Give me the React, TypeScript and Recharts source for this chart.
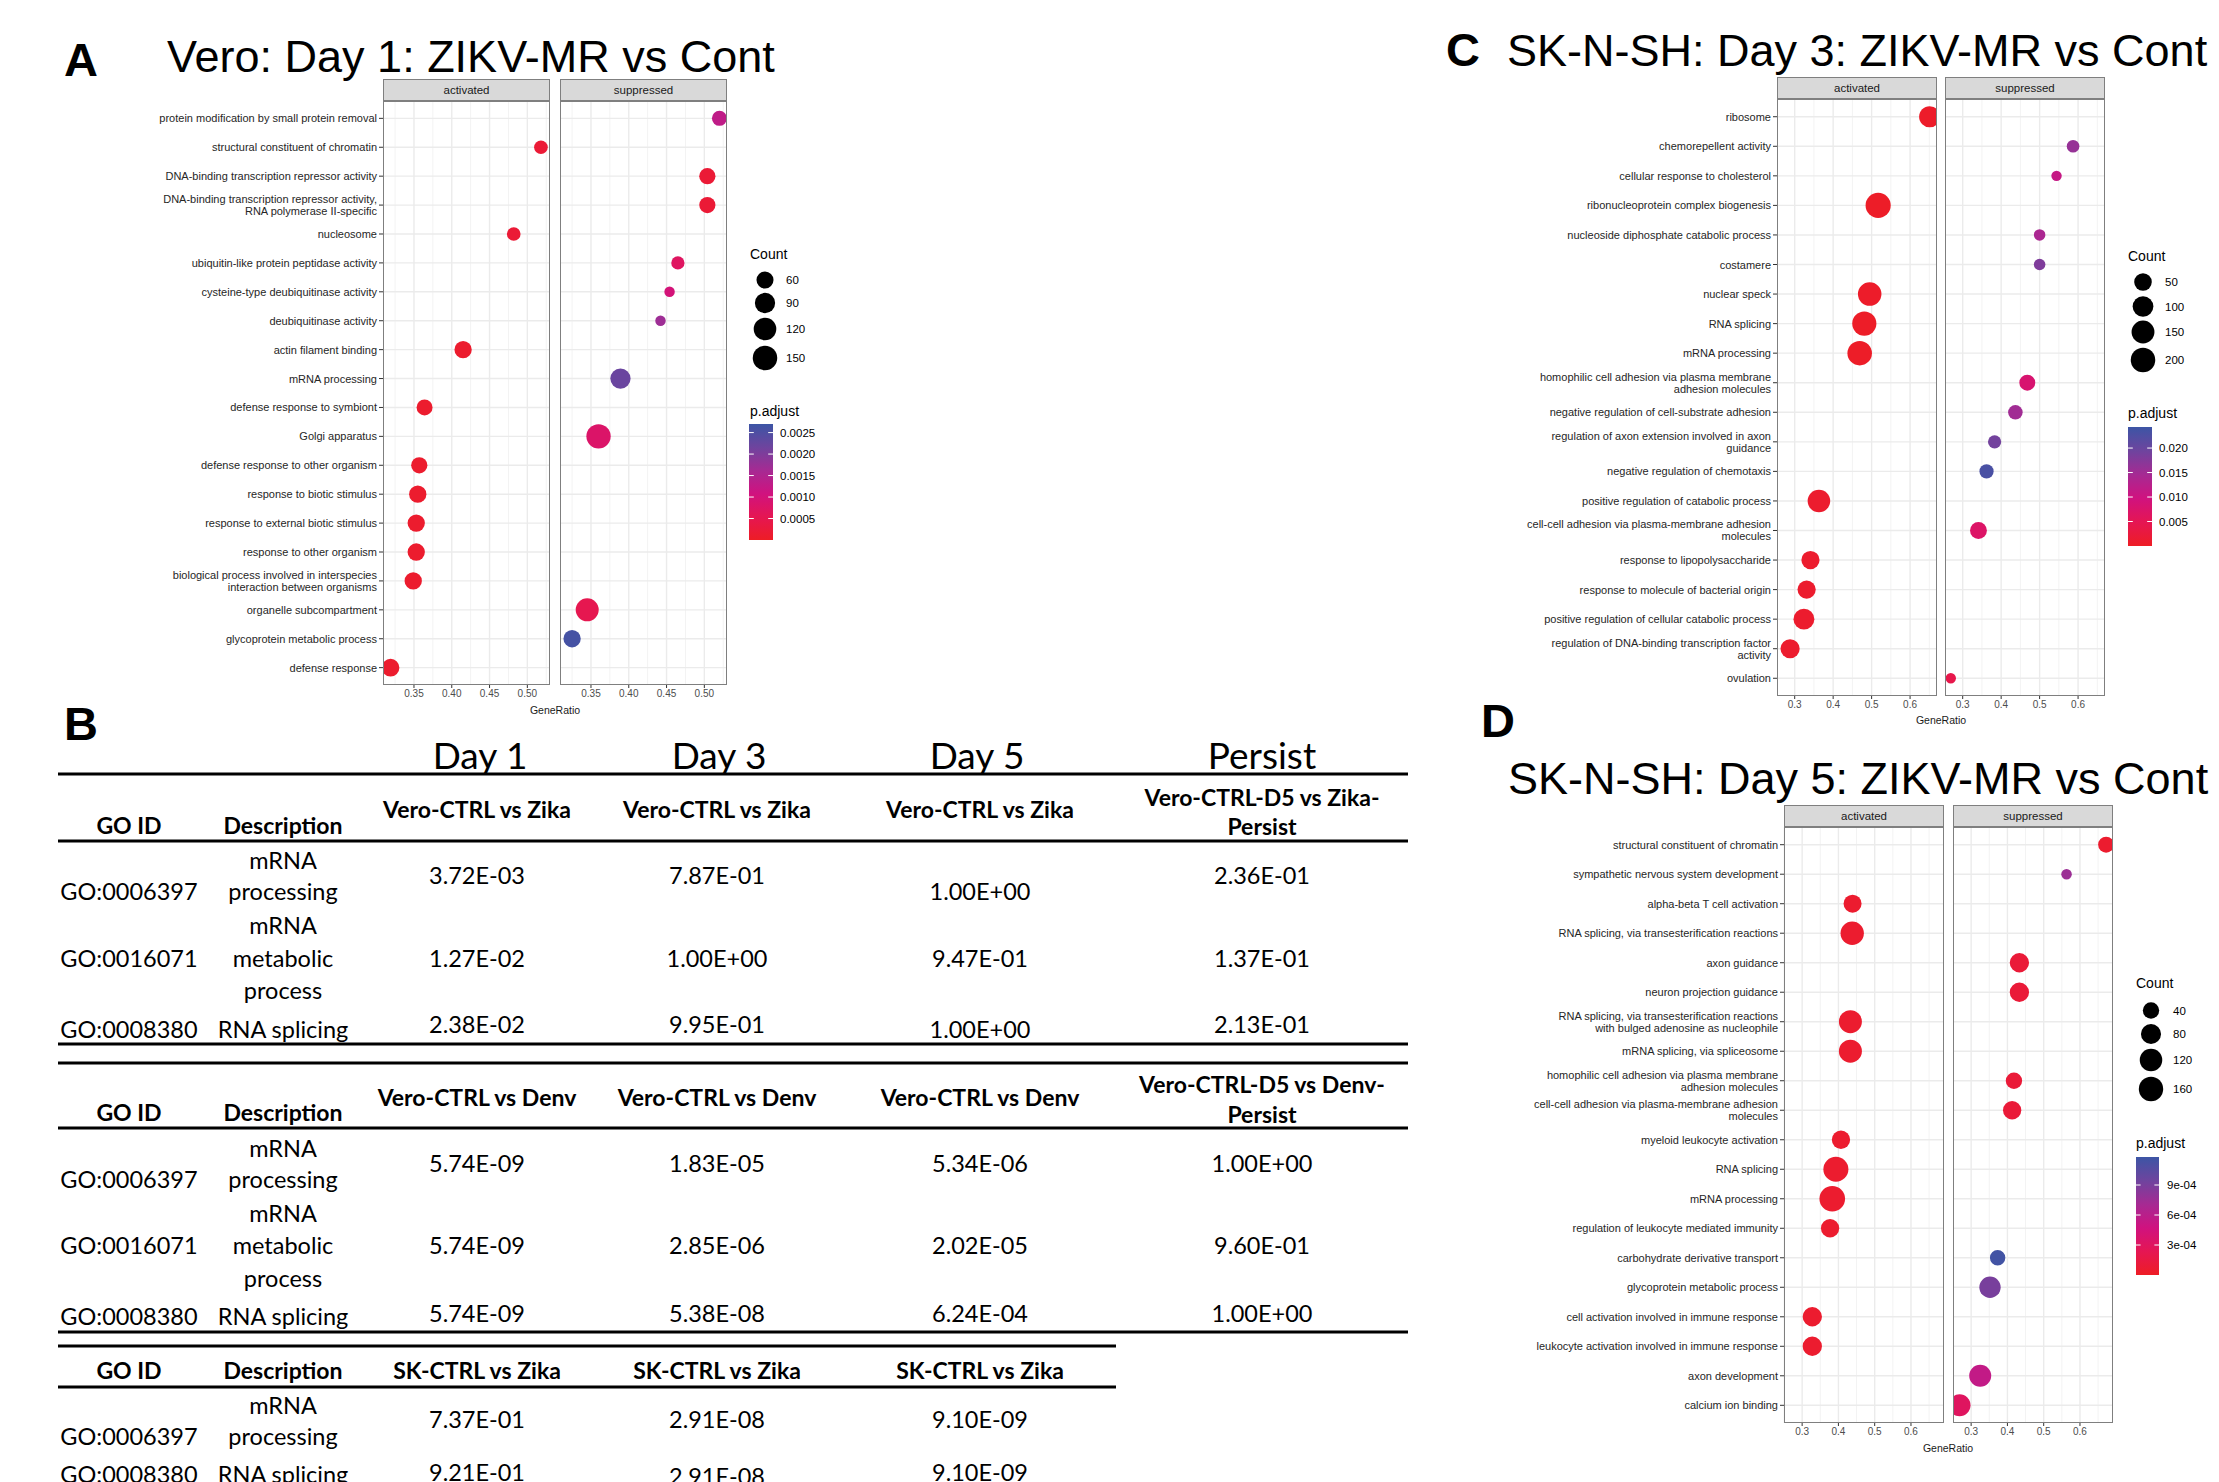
import React from "react"
import { CartesianGrid, Cell, Scatter, ScatterChart, XAxis, YAxis, ZAxis } from "recharts"

// ---------- panel A: Vero day 1 ----------
const termsA = [
  "protein modification by small protein removal",
  "structural constituent of chromatin",
  "DNA-binding transcription repressor activity",
  "DNA-binding transcription repressor activity,\nRNA polymerase II-specific",
  "nucleosome",
  "ubiquitin-like protein peptidase activity",
  "cysteine-type deubiquitinase activity",
  "deubiquitinase activity",
  "actin filament binding",
  "mRNA processing",
  "defense response to symbiont",
  "Golgi apparatus",
  "defense response to other organism",
  "response to biotic stimulus",
  "response to external biotic stimulus",
  "response to other organism",
  "biological process involved in interspecies\ninteraction between organisms",
  "organelle subcompartment",
  "glycoprotein metabolic process",
  "defense response",
]
const sideA = ["s", "a", "s", "s", "a", "s", "s", "s", "a", "s", "a", "s", "a", "a", "a", "a", "a", "s", "s", "a"]
const ratioA = [0.52, 0.518, 0.504, 0.504, 0.482, 0.465, 0.454, 0.442, 0.415, 0.389, 0.364, 0.36, 0.357, 0.355, 0.353, 0.353, 0.349, 0.345, 0.325, 0.319]
const countA = [46, 39, 54, 54, 39, 37, 26, 26, 62, 90, 52, 147, 54, 62, 62, 62, 62, 126, 62, 65]
const padjA = [0.0013, 0.0002, 0.0002, 0.0002, 0.0002, 0.0007, 0.001, 0.0017, 0.0001, 0.0022, 0.0001, 0.0008, 0.0001, 0.0001, 0.0001, 0.0001, 0.0001, 0.0005, 0.0026, 0.0001]

// ---------- panel C: SK-N-SH day 3 ----------
const termsC = [
  "ribosome",
  "chemorepellent activity",
  "cellular response to cholesterol",
  "ribonucleoprotein complex biogenesis",
  "nucleoside diphosphate catabolic process",
  "costamere",
  "nuclear speck",
  "RNA splicing",
  "mRNA processing",
  "homophilic cell adhesion via plasma membrane\nadhesion molecules",
  "negative regulation of cell-substrate adhesion",
  "regulation of axon extension involved in axon\nguidance",
  "negative regulation of chemotaxis",
  "positive regulation of catabolic process",
  "cell-cell adhesion via plasma-membrane adhesion\nmolecules",
  "response to lipopolysaccharide",
  "response to molecule of bacterial origin",
  "positive regulation of cellular catabolic process",
  "regulation of DNA-binding transcription factor\nactivity",
  "ovulation",
]
const sideC = ["a", "s", "s", "a", "s", "s", "a", "a", "a", "s", "s", "s", "s", "a", "s", "a", "a", "a", "a", "s"]
const ratioC = [0.651, 0.587, 0.544, 0.517, 0.5, 0.5, 0.495, 0.481, 0.469, 0.468, 0.437, 0.383, 0.362, 0.363, 0.341, 0.341, 0.331, 0.324, 0.288, 0.269]
const countC = [109, 12, 5, 221, 8, 8, 168, 188, 199, 33, 22, 15, 20, 141, 42, 58, 58, 102, 72, 5]
const padjC = [0.0005, 0.016, 0.011, 0.0003, 0.014, 0.018, 0.0005, 0.0003, 0.0003, 0.008, 0.015, 0.019, 0.023, 0.001, 0.007, 0.001, 0.001, 0.001, 0.001, 0.004]

// ---------- panel D: SK-N-SH day 5 ----------
const termsD = [
  "structural constituent of chromatin",
  "sympathetic nervous system development",
  "alpha-beta T cell activation",
  "RNA splicing, via transesterification reactions",
  "axon guidance",
  "neuron projection guidance",
  "RNA splicing, via transesterification reactions\nwith bulged adenosine as nucleophile",
  "mRNA splicing, via spliceosome",
  "homophilic cell adhesion via plasma membrane\nadhesion molecules",
  "cell-cell adhesion via plasma-membrane adhesion\nmolecules",
  "myeloid leukocyte activation",
  "RNA splicing",
  "mRNA processing",
  "regulation of leukocyte mediated immunity",
  "carbohydrate derivative transport",
  "glycoprotein metabolic process",
  "cell activation involved in immune response",
  "leukocyte activation involved in immune response",
  "axon development",
  "calcium ion binding",
]
const sideD = ["s", "s", "a", "a", "s", "s", "a", "a", "s", "s", "a", "a", "a", "a", "s", "s", "a", "a", "s", "s"]
const ratioD = [0.672, 0.563, 0.439, 0.438, 0.433, 0.433, 0.433, 0.433, 0.418, 0.413, 0.407, 0.393, 0.383, 0.377, 0.373, 0.352, 0.328, 0.328, 0.325, 0.268]
const countD = [37, 11, 55, 136, 70, 70, 129, 129, 40, 58, 58, 175, 192, 58, 33, 99, 70, 70, 110, 110]
const padjD = [0.00005, 0.00075, 0.00005, 0.00005, 0.0001, 0.0001, 0.00005, 0.00005, 0.0001, 0.0001, 0.00005, 0.00005, 0.00005, 0.00005, 0.00115, 0.0009, 0.00005, 0.00005, 0.00055, 0.0003]

// ---------- legends ----------
const countKeysA = [60, 90, 120, 150]
const countKeysC = [50, 100, 150, 200]
const countKeysD = [40, 80, 120, 160]
const padjTicksA = [0.0005, 0.001, 0.0015, 0.002, 0.0025]
const padjTicksC = [0.005, 0.01, 0.015, 0.02]
const padjTicksD = [0.0003, 0.0006, 0.0009]

// ---------- panel B tables ----------
const dayLabels = ["Day 1", "Day 3", "Day 5", "Persist"]
const goIds = ["GO:0006397", "GO:0016071", "GO:0008380"]
const goDesc = [["mRNA", "processing"], ["mRNA", "metabolic", "process"], ["RNA splicing"]]
const zikaHeads = ["Vero-CTRL vs Zika", "Vero-CTRL vs Zika", "Vero-CTRL vs Zika", "Vero-CTRL-D5 vs Zika-|Persist"]
const zikaVals = [
  ["3.72E-03", "7.87E-01", "1.00E+00", "2.36E-01"],
  ["1.27E-02", "1.00E+00", "9.47E-01", "1.37E-01"],
  ["2.38E-02", "9.95E-01", "1.00E+00", "2.13E-01"],
]
const denvHeads = ["Vero-CTRL vs Denv", "Vero-CTRL vs Denv", "Vero-CTRL vs Denv", "Vero-CTRL-D5 vs Denv-|Persist"]
const denvVals = [
  ["5.74E-09", "1.83E-05", "5.34E-06", "1.00E+00"],
  ["5.74E-09", "2.85E-06", "2.02E-05", "9.60E-01"],
  ["5.74E-09", "5.38E-08", "6.24E-04", "1.00E+00"],
]
const skHeads = ["SK-CTRL vs Zika", "SK-CTRL vs Zika", "SK-CTRL vs Zika"]
const skIds = ["GO:0006397", "GO:0008380"]
const skDesc = [["mRNA", "processing"], ["RNA splicing"]]
const skVals = [
  ["7.37E-01", "2.91E-08", "9.10E-09"],
  ["9.21E-01", "2.91E-08", "9.10E-09"],
]

const SANS = "'Liberation Sans', Arial, Helvetica, sans-serif"
const TABLE_FONT = "Lato, 'Open Sans', sans-serif"

const gradStops: [number, string][] = [
  [0, "#EE1D25"],
  [0.2, "#E51653"],
  [0.4, "#D0127F"],
  [0.6, "#A62A93"],
  [0.8, "#6E449E"],
  [1, "#3C55A5"],
]

function colorOf(v: number, max: number) {
  const t = Math.max(0, Math.min(1, v / max))
  for (let i = 1; i < gradStops.length; i++) {
    const [t1, c1] = gradStops[i]
    const [t0, c0] = gradStops[i - 1]
    if (t <= t1) {
      const f = (t - t0) / (t1 - t0)
      const a = parseInt(c0.slice(1), 16)
      const b = parseInt(c1.slice(1), 16)
      const ch = (s: number) => Math.round(((a >> s) & 255) * (1 - f) + ((b >> s) & 255) * f)
      return `rgb(${ch(16)},${ch(8)},${ch(0)})`
    }
  }
  return gradStops[gradStops.length - 1][1]
}

// same sqrt mapping the ZAxis uses, for the legend keys
function keyDiameter(c: number, dom: number[], rng: number[]) {
  const f = (Math.sqrt(c) - Math.sqrt(dom[0])) / (Math.sqrt(dom[1]) - Math.sqrt(dom[0]))
  const area = rng[0] + (rng[1] - rng[0]) * f
  return 2 * Math.sqrt(area / Math.PI)
}

type Panel = {
  terms: string[]
  side: string[]
  ratio: number[]
  count: number[]
  padj: number[]
  xDomain: number[]
  xTicks: number[]
  xMinor: number[]
  digits: number
  zDomain: number[]
  zRange: number[]
  pMax: number
  actLeft: number
  supLeft: number
  w: number
  top: number
  h: number
  yW: number
}

const panelA: Panel = {
  terms: termsA, side: sideA, ratio: ratioA, count: countA, padj: padjA,
  xDomain: [0.309, 0.53], xTicks: [0.35, 0.4, 0.45, 0.5], xMinor: [0.325, 0.375, 0.425, 0.475, 0.525],
  digits: 2, zDomain: [20, 200], zRange: [52.1, 573.1], pMax: 0.0027,
  actLeft: 383, supLeft: 560, w: 167, top: 101, h: 584, yW: 240,
}
const panelC: Panel = {
  terms: termsC, side: sideC, ratio: ratioC, count: countC, padj: padjC,
  xDomain: [0.254, 0.67], xTicks: [0.3, 0.4, 0.5, 0.6], xMinor: [0.35, 0.45, 0.55, 0.65],
  digits: 1, zDomain: [4, 250], zRange: [77.4, 527.5], pMax: 0.0243,
  actLeft: 1777, supLeft: 1945, w: 160, top: 99, h: 597, yW: 277,
}
const panelD: Panel = {
  terms: termsD, side: sideD, ratio: ratioD, count: countD, padj: padjD,
  xDomain: [0.25, 0.691], xTicks: [0.3, 0.4, 0.5, 0.6], xMinor: [0.25, 0.35, 0.45, 0.55, 0.65],
  digits: 1, zDomain: [9, 250], zRange: [74.6, 597], pMax: 0.00118,
  actLeft: 1784, supLeft: 1953, w: 160, top: 827, h: 596, yW: 274,
}

const makeYTick = (terms: string[]) => (props: any) => {
  const { x, y, payload } = props
  const lines = terms[payload.value].split("\n")
  const lh = 12
  return (
    <text x={x} y={y} textAnchor="end" fontSize={11} fill="#262626" fontFamily={SANS} dominantBaseline="central">
      {lines.map((l, i) => (
        <tspan key={i} x={x} dy={i === 0 ? (-(lines.length - 1) / 2) * lh : lh}>
          {l}
        </tspan>
      ))}
    </text>
  )
}

function Facet({ p, which, label }: { p: Panel; which: string; label: string }) {
  const showY = which === "a"
  const yW = showY ? p.yW : 0
  const left = which === "a" ? p.actLeft : p.supLeft
  const rows = p.terms.map((_, i) => i)
  const pts = rows
    .filter((i) => p.side[i] === which)
    .map((i) => ({ ratio: p.ratio[i], row: i, count: p.count[i], padj: p.padj[i] }))
  return (
    <>
      <div
        style={{
          position: "absolute", left, top: p.top - 22, width: p.w, height: 22, boxSizing: "border-box",
          background: "#D9D9D9", border: "1.4px solid #7F7F7F", fontFamily: SANS, fontSize: 11.5,
          color: "#1A1A1A", textAlign: "center", lineHeight: "20px",
        }}
      >
        {label}
      </div>
      <div style={{ position: "absolute", left: left - yW, top: p.top }}>
        <ScatterChart width={p.w + yW} height={p.h + 30} margin={{ top: 0, right: 0, bottom: 0, left: 0 }}>
          <CartesianGrid horizontal={false} verticalValues={p.xMinor} stroke="#F3F3F3" strokeWidth={1} />
          <CartesianGrid horizontalValues={rows} verticalValues={p.xTicks} stroke="#EBEBEB" strokeWidth={1.4} />
          <XAxis
            type="number" dataKey="ratio" domain={p.xDomain} ticks={p.xTicks} interval={0} allowDataOverflow
            height={30} axisLine={false} tickSize={3} tickLine={{ stroke: "#333" }}
            tick={{ fontSize: 10, fill: "#4D4D4D", fontFamily: SANS }}
            tickFormatter={(v: number) => v.toFixed(p.digits)}
          />
          <YAxis
            type="number" dataKey="row" domain={[-0.6, p.terms.length - 0.4]} reversed ticks={rows} interval={0}
            allowDataOverflow hide={!showY} width={yW} axisLine={false} tickSize={4} tickMargin={2}
            tickLine={{ stroke: "#333" }} tick={makeYTick(p.terms)}
          />
          <ZAxis type="number" dataKey="count" domain={p.zDomain} range={p.zRange} scale="sqrt" />
          <Scatter data={pts} isAnimationActive={false}>
            {pts.map((d, i) => (
              <Cell key={i} fill={colorOf(d.padj, p.pMax)} />
            ))}
          </Scatter>
        </ScatterChart>
      </div>
      <div
        style={{
          position: "absolute", left, top: p.top, width: p.w, height: p.h, boxSizing: "border-box",
          border: "1.4px solid #7F7F7F", pointerEvents: "none",
        }}
      />
    </>
  )
}

type LegendSpec = {
  p: Panel
  x: number
  countY: number
  dotX: number
  dotYs: number[]
  keys: number[]
  labelX: number
  pY: number
  barX: number
  barY: number
  barW: number
  barH: number
  ticks: number[]
  tickLabelX: number
  fmt: (v: number) => string
  id: string
}

function Legend({ s }: { s: LegendSpec }) {
  return (
    <g fontFamily={SANS}>
      <text x={s.x} y={s.countY} fontSize={14} dominantBaseline="central" fill="#000">Count</text>
      {s.keys.map((k, i) => (
        <g key={k}>
          <circle cx={s.dotX} cy={s.dotYs[i]} r={keyDiameter(k, s.p.zDomain, s.p.zRange) / 2} fill="#000" />
          <text x={s.labelX} y={s.dotYs[i]} fontSize={11.5} dominantBaseline="central" fill="#000">{k}</text>
        </g>
      ))}
      <text x={s.x} y={s.pY} fontSize={14} dominantBaseline="central" fill="#000">p.adjust</text>
      <defs>
        <linearGradient id={s.id} x1="0" y1="1" x2="0" y2="0">
          {gradStops.map(([t, c]) => (
            <stop key={t} offset={t} stopColor={c} />
          ))}
        </linearGradient>
      </defs>
      <rect x={s.barX} y={s.barY} width={s.barW} height={s.barH} fill={`url(#${s.id})`} />
      {s.ticks.map((t) => {
        const y = s.barY + s.barH * (1 - t / s.p.pMax)
        return (
          <g key={t}>
            <line x1={s.barX} x2={s.barX + s.barW / 5} y1={y} y2={y} stroke="#fff" strokeWidth={1} />
            <line x1={s.barX + s.barW * 0.8} x2={s.barX + s.barW} y1={y} y2={y} stroke="#fff" strokeWidth={1} />
            <text x={s.tickLabelX} y={y} fontSize={11.5} dominantBaseline="central" fill="#000">{s.fmt(t)}</text>
          </g>
        )
      })}
    </g>
  )
}

const legendA: LegendSpec = {
  p: panelA, x: 750, countY: 254, dotX: 765, dotYs: [280, 303, 329, 358], keys: countKeysA, labelX: 786,
  pY: 411, barX: 749, barY: 424, barW: 24, barH: 116, ticks: padjTicksA, tickLabelX: 780,
  fmt: (v) => v.toFixed(4), id: "gA",
}
const legendC: LegendSpec = {
  p: panelC, x: 2128, countY: 256, dotX: 2143, dotYs: [282, 306.5, 332, 360], keys: countKeysC, labelX: 2165,
  pY: 413, barX: 2128, barY: 427, barW: 24, barH: 119, ticks: padjTicksC, tickLabelX: 2159,
  fmt: (v) => v.toFixed(3), id: "gC",
}
const legendD: LegendSpec = {
  p: panelD, x: 2136, countY: 983, dotX: 2151, dotYs: [1010.5, 1034, 1060, 1089], keys: countKeysD, labelX: 2173,
  pY: 1142.5, barX: 2136, barY: 1157, barW: 23, barH: 118, ticks: padjTicksD, tickLabelX: 2167,
  fmt: (v) => v.toExponential(0).replace("e-", "e-0"), id: "gD",
}

// ---------- table ----------
const colX = [129, 283, 477, 717, 980, 1262]

type RowPos = { desc: number[]; go: number; val: number[] }
type TableSpec = {
  x1: number
  top: number
  headY: number
  colHeadY: number
  twoLineY: number[]
  headRule: number
  bottom?: number
  rows: RowPos[]
  ids: string[]
  desc: string[][]
  heads: string[]
  vals: string[][]
}

const tables: TableSpec[] = [
  {
    x1: 1408, top: 774, headY: 825, colHeadY: 809, twoLineY: [797, 826], headRule: 841, bottom: 1044,
    rows: [
      { desc: [860, 891], go: 891, val: [875, 875, 891, 875] },
      { desc: [925, 958, 990], go: 958, val: [958, 958, 958, 958] },
      { desc: [1029], go: 1029, val: [1024, 1024, 1029, 1024] },
    ],
    ids: goIds, desc: goDesc, heads: zikaHeads, vals: zikaVals,
  },
  {
    x1: 1408, top: 1063, headY: 1112, colHeadY: 1097, twoLineY: [1084, 1114], headRule: 1128, bottom: 1332,
    rows: [
      { desc: [1148, 1179], go: 1179, val: [1163, 1163, 1163, 1163] },
      { desc: [1213, 1245, 1278], go: 1245, val: [1245, 1245, 1245, 1245] },
      { desc: [1316], go: 1316, val: [1313, 1313, 1313, 1313] },
    ],
    ids: goIds, desc: goDesc, heads: denvHeads, vals: denvVals,
  },
  {
    x1: 1116, top: 1346, headY: 1370, colHeadY: 1370, twoLineY: [1370, 1370], headRule: 1387,
    rows: [
      { desc: [1405, 1436], go: 1436, val: [1419, 1419, 1419] },
      { desc: [1474], go: 1474, val: [1472, 1476, 1472] },
    ],
    ids: skIds, desc: skDesc, heads: skHeads, vals: skVals,
  },
]

function Table({ t }: { t: TableSpec }) {
  const body = { fontFamily: TABLE_FONT, fontSize: 23.5, fill: "#000", textAnchor: "middle" as const, dominantBaseline: "central" as const }
  const bold = { ...body, fontSize: 23, fontWeight: 700 }
  return (
    <g>
      <line x1={58} x2={t.x1} y1={t.top} y2={t.top} stroke="#000" strokeWidth={3} />
      <text x={colX[0]} y={t.headY} {...bold}>GO ID</text>
      <text x={colX[1]} y={t.headY} {...bold}>Description</text>
      {t.heads.map((h, i) => {
        const parts = h.split("|")
        return parts.length > 1 ? (
          parts.map((s, j) => (
            <text key={`${i}-${j}`} x={colX[i + 2]} y={t.twoLineY[j]} {...bold}>{s}</text>
          ))
        ) : (
          <text key={i} x={colX[i + 2]} y={t.colHeadY} {...bold}>{h}</text>
        )
      })}
      <line x1={58} x2={t.x1} y1={t.headRule} y2={t.headRule} stroke="#000" strokeWidth={3} />
      {t.rows.map((r, i) => (
        <g key={i}>
          <text x={colX[0]} y={r.go} {...body}>{t.ids[i]}</text>
          {t.desc[i].map((d, j) => (
            <text key={j} x={colX[1]} y={r.desc[j]} {...body}>{d}</text>
          ))}
          {t.vals[i].map((v, j) => (
            <text key={`v${j}`} x={colX[j + 2]} y={r.val[j]} {...body}>{v}</text>
          ))}
        </g>
      ))}
      {t.bottom !== undefined && (
        <line x1={58} x2={t.x1} y1={t.bottom} y2={t.bottom} stroke="#000" strokeWidth={3} />
      )}
    </g>
  )
}

const dayX = [480, 719, 977, 1262]

export default function App() {
  return (
    <div style={{ position: "absolute", left: 0, top: 0, width: 2219, height: 1482, background: "#fff", overflow: "hidden" }}>
      <Facet p={panelA} which="a" label="activated" />
      <Facet p={panelA} which="s" label="suppressed" />
      <Facet p={panelC} which="a" label="activated" />
      <Facet p={panelC} which="s" label="suppressed" />
      <Facet p={panelD} which="a" label="activated" />
      <Facet p={panelD} which="s" label="suppressed" />
      <svg width={2219} height={1482} style={{ position: "absolute", left: 0, top: 0, pointerEvents: "none" }}>
        <g fontFamily={SANS} fontWeight={700} fontSize={47} fill="#000">
          <text x={64} y={76}>A</text>
          <text x={64} y={740}>B</text>
          <text x={1446} y={66}>C</text>
          <text x={1481} y={737}>D</text>
        </g>
        <g fontFamily={SANS} fontSize={45} fill="#000">
          <text x={167} y={72}>Vero: Day 1: ZIKV-MR vs Cont</text>
          <text x={1507} y={66}>SK-N-SH: Day 3: ZIKV-MR vs Cont</text>
          <text x={1508} y={794}>SK-N-SH: Day 5: ZIKV-MR vs Cont</text>
        </g>
        <g fontFamily={SANS} fontSize={10.5} fill="#1A1A1A" textAnchor="middle" dominantBaseline="central">
          <text x={555} y={710}>GeneRatio</text>
          <text x={1941} y={720}>GeneRatio</text>
          <text x={1948} y={1448}>GeneRatio</text>
        </g>
        <Legend s={legendA} />
        <Legend s={legendC} />
        <Legend s={legendD} />
        {dayLabels.map((d, i) => (
          <text key={d} x={dayX[i]} y={754} fontFamily={TABLE_FONT} fontSize={37} textAnchor="middle" dominantBaseline="central">
            {d}
          </text>
        ))}
        {tables.map((t, i) => (
          <Table key={i} t={t} />
        ))}
      </svg>
    </div>
  )
}
